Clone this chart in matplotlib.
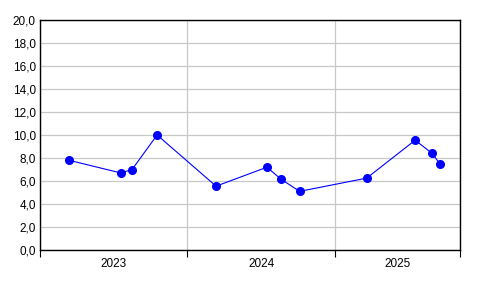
import matplotlib
matplotlib.use("Agg")
import matplotlib.pyplot as plt
import matplotlib.dates as mdates
import matplotlib.ticker as mticker
import numpy as np
import datetime as dt

plt.rcParams['font.family'] = ['Liberation Sans', 'DejaVu Sans']

dates = ["2023-03-14", "2023-07-20", "2023-08-17", "2023-10-18",
         "2024-03-12", "2024-07-16", "2024-08-20", "2024-10-05",
         "2025-03-20", "2025-07-18", "2025-08-29", "2025-09-18"]
values = [7.8, 6.7, 7.0, 10.0, 5.55, 7.2, 6.15, 5.1, 6.25, 9.55, 8.4, 7.45]
years = [2023, 2024, 2025]
x_start = dt.date(2023, 1, 1)
x_end = dt.date(2025, 11, 6)

x = [dt.date.fromisoformat(d) for d in dates]

fig = plt.figure(figsize=(4.96, 2.96), dpi=100)
ax = fig.add_axes([40 / 496, 46 / 296, 420 / 496, 230 / 296])

ax.plot(x, values, color='#0000ff', lw=0.8, marker='o', ms=5.5,
        markerfacecolor='#0000ff', markeredgecolor='#0000ff', zorder=3)

ax.set_xlim(x_start, x_end)
ax.set_ylim(0, 20)

# y axis
ax.yaxis.set_major_locator(mticker.MultipleLocator(2))
ax.yaxis.set_major_formatter(mticker.FuncFormatter(lambda v, p: f"{v:.1f}".replace('.', ',')))
ax.tick_params(axis='y', length=0, pad=3, labelsize=8.5)

# x axis: ticks at year boundaries, labels centered in each year
bounds = [dt.date(y, 1, 1) for y in years] + [x_end]
bnums = mdates.date2num(bounds)
ax.set_xticks(bnums)
ax.set_xticklabels([])
mids = [(bnums[i] + min(bnums[i + 1], bnums[-1])) / 2 for i in range(len(years))]
ax.set_xticks(mids, minor=True)
ax.set_xticklabels([str(y) for y in years], minor=True)
ax.tick_params(axis='x', which='major', length=5, width=0.8, color='black')
ax.tick_params(axis='x', which='minor', length=0, pad=6, labelsize=8.5)

ax.grid(True, which='major', color='#c8c8c8', lw=0.9)
ax.set_axisbelow(True)
for s in ax.spines.values():
    s.set_color('black')
    s.set_linewidth(1.0)

fig.savefig("out.png", dpi=100)
